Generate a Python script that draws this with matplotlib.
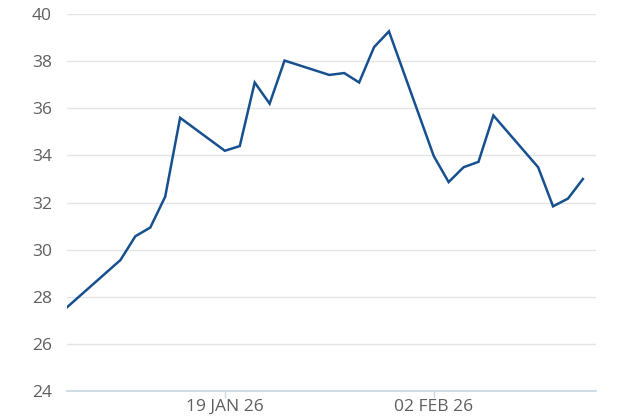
import pandas as pd
import matplotlib
matplotlib.use("Agg")
import matplotlib.pyplot as plt

plt.rcParams['font.family'] = ['Open Sans', 'DejaVu Sans']

# trading days and values
dates = ['2026-01-08', '2026-01-12', '2026-01-13', '2026-01-14', '2026-01-15',
         '2026-01-16', '2026-01-19', '2026-01-20', '2026-01-21', '2026-01-22',
         '2026-01-23', '2026-01-26', '2026-01-27', '2026-01-28', '2026-01-29',
         '2026-01-30', '2026-02-02', '2026-02-03', '2026-02-04', '2026-02-05',
         '2026-02-06', '2026-02-09', '2026-02-10', '2026-02-11', '2026-02-12']
values = [27.32, 29.56, 30.57, 30.94, 32.25,
          35.6, 34.2, 34.4, 37.1, 36.2,
          38.03, 37.42, 37.5, 37.1, 38.6,
          39.27, 33.98, 32.87, 33.5, 33.73,
          35.7, 33.5, 31.84, 32.17, 33.0]
yticks = [24, 26, 28, 30, 32, 34, 36, 38, 40]
xticks = ['2026-01-19', '2026-02-02']

x = pd.to_datetime(dates)

fig = plt.figure(figsize=(6.26, 4.17), dpi=100)
ax = fig.add_axes([0.107, 0.0624, 0.845, 0.9036])

ax.plot(x, values, color='#17508f', linewidth=1.8, solid_joinstyle='miter')

ax.set_ylim(24, 40)
ax.set_xlim(pd.Timestamp('2026-01-08') + pd.Timedelta(hours=10),
            pd.Timestamp('2026-02-12') + pd.Timedelta(hours=21))
ax.set_yticks(yticks)
ax.set_xticks(pd.to_datetime(xticks))
ax.set_xticklabels([pd.Timestamp(d).strftime('%d %b %y').upper() for d in xticks])

ax.grid(axis='y', color='#e4e4e4', linewidth=1)
ax.set_axisbelow(True)
for s in ['top', 'right', 'left']:
    ax.spines[s].set_visible(False)
ax.spines['bottom'].set_color('#c9d6e3')
ax.spines['bottom'].set_linewidth(1.2)

ax.tick_params(axis='y', length=0, pad=11, labelsize=12.5, labelcolor='#5f5f5f')
ax.tick_params(axis='x', length=5, width=1, color='#c9d6e3', pad=1,
               labelsize=12.5, labelcolor='#5f5f5f')

fig.savefig('out.png', dpi=100)
